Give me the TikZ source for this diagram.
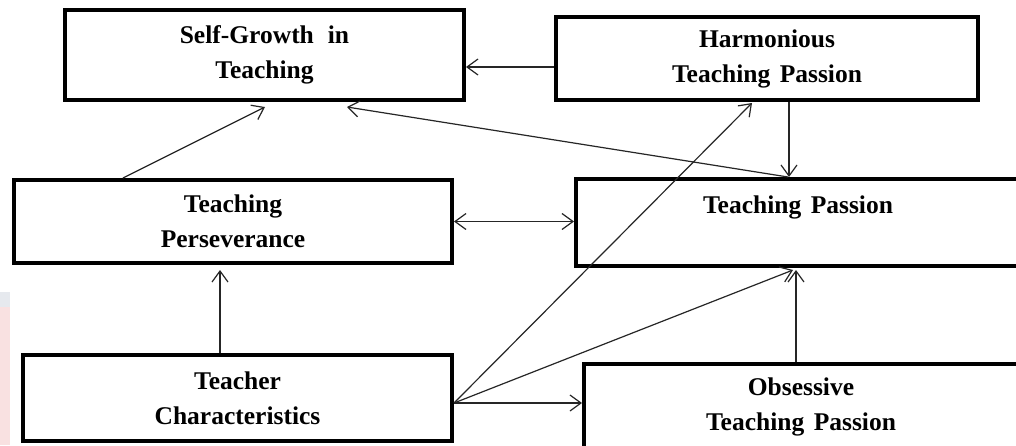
\documentclass[tikz,border=0pt]{standalone}
\usepackage{fontspec}
\setmainfont{Liberation Serif}[WordSpace=1.5]
\usetikzlibrary{arrows.meta,calc}
\tikzset{
  box/.style={draw=black, line width=4pt, fill=white, rectangle, align=center,
    font=\fontsize{25.5}{35}\selectfont\bfseries, inner sep=0pt},
  link/.style={draw=black!85, line width=1.2pt},
  arr/.style={link, -{Straight Barb[length=11pt,width=16pt]}},
  darr/.style={link, {Straight Barb[length=11pt,width=16pt]}-{Straight Barb[length=11pt,width=16pt]}}
}
\begin{document}
\begin{tikzpicture}[x=1pt,y=-1pt]
\useasboundingbox (0,0) rectangle (1016,445);
\clip (0,0) rectangle (1016,445);
\fill[white] (0,0) rectangle (1016,445);
% faint watermark at left edge
\fill[color={rgb,255:red,230;green,233;blue,238}] (0,292) rectangle (10,307);
\fill[color={rgb,255:red,249;green,225;blue,225}] (0,307) rectangle (10,445);

\node[box, minimum width=399pt, minimum height=90pt] (sg) at (264.5,55) {Self-Growth\hspace{14pt}in\\Teaching};
\node[box, minimum width=422pt, minimum height=83pt] (hp) at (767,58.5) {Harmonious\\Teaching Passion};
\node[box, minimum width=438pt, minimum height=83pt] (tper) at (233,221.5) {Teaching\\Perseverance};
\node[box, minimum width=444pt, minimum height=87pt] (tpas) at (798,222.5) {Teaching Passion\\\mbox{}};
\node[box, minimum width=429pt, minimum height=86pt] (tc) at (237.5,398) {Teacher\\Characteristics};
\node[box, minimum width=434pt, minimum height=115pt] (ob) at (801,421.5) {Obsessive\\Teaching Passion\\\mbox{}};

\coordinate (tcx) at ($(tc.east)+(0,5)$);

% Harmonious -> Self-Growth
\draw[arr] ($(hp.west)+(0,8.5)$) -- ($(sg.east)+(0,12)$);
% Teaching Passion -> Self-Growth
\draw[arr] ($(tpas.north west)+(214,0)$) -- ($(sg.south west)+(284,5)$);
% Perseverance -> Self-Growth
\draw[arr] ($(tper.north west)+(111,0)$) -- ($(sg.south west)+(202,5)$);
% Harmonious -> Teaching Passion
\coordinate (hpb) at ($(hp.south west)+(235,0)$);
\draw[arr] (hpb) -- (hpb |- tpas.north);
% Perseverance <-> Teaching Passion
\draw[darr] (tper.east) -- (tper.east -| tpas.west);
% Teacher Characteristics -> Perseverance
\coordinate (tct) at ($(tc.north west)+(199,0)$);
\draw[arr] (tct) -- ($(tct |- tper.south)+(0,5)$);
% Teacher Characteristics -> Harmonious
\draw[arr] (tcx) -- ($(hp.south west)+(198,1)$);
% Teacher Characteristics -> Teaching Passion
\draw[arr] (tcx) -- ($(tpas.south west)+(219,2)$);
% Teacher Characteristics -> Obsessive
\draw[arr] (tcx) -- (tcx -| ob.west);
% Obsessive -> Teaching Passion
\coordinate (obt) at ($(ob.north west)+(214,0)$);
\draw[arr] (obt) -- ($(obt |- tpas.south)+(0,2)$);
\end{tikzpicture}
\end{document}
